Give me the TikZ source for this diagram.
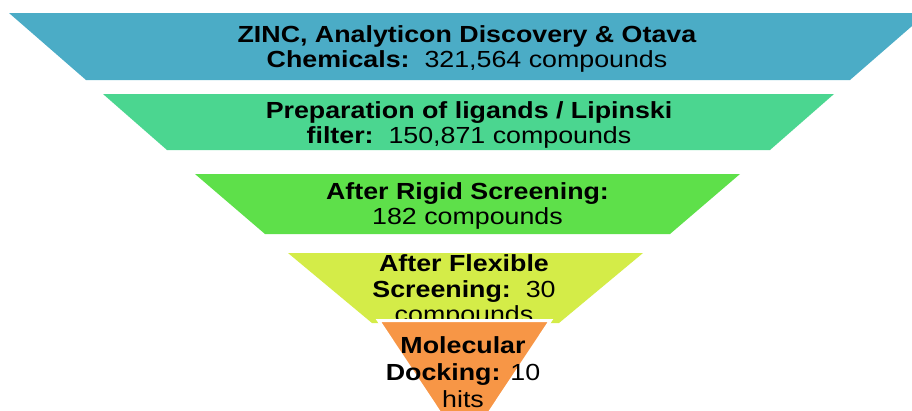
\documentclass[tikz,border=0pt]{standalone}
\usepackage{fontspec}
\setmainfont{Liberation Sans}[FakeStretch=1.15]
\definecolor{tierA}{HTML}{4BACC6}
\definecolor{tierB}{HTML}{4BD690}
\definecolor{tierC}{HTML}{5EE04A}
\definecolor{tierD}{HTML}{D4EC48}
\definecolor{tierE}{HTML}{F79646}
\tikzset{
  tiertext/.style={inner sep=0pt, anchor=north, align=center, text=black,
    font=\fontsize{23.3}{25.3}\selectfont},
  tiptext/.style={tiertext, font=\fontsize{23.3}{27}\selectfont},
  tipshape/.style={fill=tierE, draw=white, line width=3pt},
}
\begin{document}
\begin{tikzpicture}[x=1pt,y=-1pt]
\useasboundingbox (0,0) rectangle (912,410);
\clip (0,0) rectangle (912,410);

% funnel tiers, widest at the top
\fill[tierA] (9,13) -- (927,13) -- (850,80) -- (86,80) -- cycle;
\fill[tierB] (103,94) -- (834,94) -- (770,150) -- (167,150) -- cycle;
\fill[tierC] (195,174) -- (740,174) -- (670,234) -- (265,234) -- cycle;
\fill[tierD] (288,253) -- (643,253) -- (559,323) -- (372,323) -- cycle;

\node[tiertext] (zinc) at (467,24.6)
  {\strut\textbf{ZINC, Analyticon Discovery \& Otava}\\
   \strut\textbf{Chemicals:}\ \ 321,564 compounds};
\node[tiertext] (prep) at (469,100.3)
  {\strut\textbf{Preparation of ligands / Lipinski}\\
   \strut\textbf{filter:}\ \ 150,871 compounds};
\node[tiertext] (rigid) at (467.5,181.3)
  {\strut\textbf{After Rigid Screening:}\\
   \strut 182 compounds};
\node[tiertext] (flex) at (464,254)
  {\strut\textbf{After Flexible}\\
   \strut\textbf{Screening:}\ \ 30\\
   \strut compounds};

% tip of the funnel, laid over the tier above it
\path[tipshape] (378.5,320.5) -- (550.5,320.5) -- (464.5,450) -- cycle;
\node[tiptext] (dock) at (463,334)
  {\strut\textbf{Molecular}\\
   \strut\textbf{Docking:} 10\\
   \strut hits};
\end{tikzpicture}
\end{document}
